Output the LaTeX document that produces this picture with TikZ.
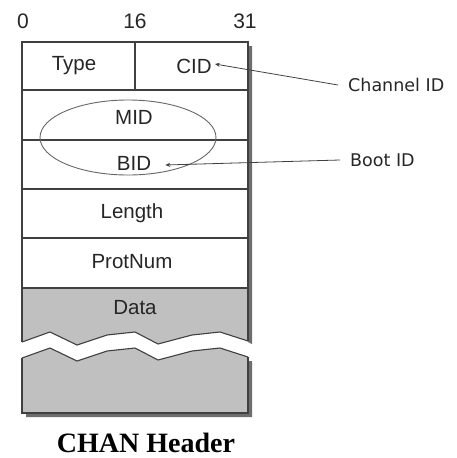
\documentclass[tikz,border=0pt]{standalone}
\usepackage{fontspec}
\setmainfont{Liberation Sans}
\newfontfamily\labelfont{DejaVu Sans}
\newfontfamily\titlefont{Liberation Serif}
\usetikzlibrary{arrows.meta}
\definecolor{linegray}{HTML}{404040}
\definecolor{datagray}{HTML}{C0C0C0}
\definecolor{shadowgray}{HTML}{6E6E6E}
\definecolor{txt}{HTML}{262626}
\begin{document}
\begin{tikzpicture}[x=1pt,y=-1pt,
  field/.style={text=txt,inner sep=0pt,font=\fontsize{20.5}{23}\selectfont},
  bitnum/.style={text=txt,inner sep=0pt,font=\fontsize{21}{24}\selectfont},
  callout/.style={text=txt,inner sep=0pt,anchor=west,font=\labelfont\fontsize{17.5}{20}\selectfont},
  edge/.style={draw=linegray,line width=1.1pt,line join=miter},
  pointer/.style={draw=linegray,line width=0.8pt,-{Stealth[length=5pt,width=4pt]}}]
\useasboundingbox (0,0) rectangle (456,458);
% shadows
\fill[shadowgray] (248,46) -- (252,46) -- (252,344) -- (248,342) -- cycle;
\fill[shadowgray] (248,361) -- (252,361) -- (252,417) -- (26,417) -- (26,413) -- (248,413) -- cycle;
% fills
\fill[white] (22,42) rectangle (248,288);
\fill[datagray] (22,288) -- (248,288) -- (248,341) -- (220,332) -- (192,335) -- (158,344) -- (135,332) -- (107,335) -- (77,345) -- (50,332) -- (22,342) -- cycle;
\fill[datagray] (22,358) -- (50,348) -- (77,361) -- (107,351) -- (135,348) -- (158,360) -- (192,351) -- (220,348) -- (248,357) -- (248,413) -- (22,413) -- cycle;
% outlines
\draw[edge] (22,342) -- (22,42) -- (248,42) -- (248,341);
\draw[edge] (22,342) -- (50,332) -- (77,345) -- (107,335) -- (135,332) -- (158,344) -- (192,335) -- (220,332) -- (248,341);
\draw[edge] (248,357) -- (248,413) -- (22,413) -- (22,358);
\draw[edge] (22,358) -- (50,348) -- (77,361) -- (107,351) -- (135,348) -- (158,360) -- (192,351) -- (220,348) -- (248,357);
\foreach \yy in {90,140,189,238,288} \draw[edge] (22,\yy) -- (248,\yy);
\draw[edge] (135,42) -- (135,90);
% ellipse
\draw[linegray!80,line width=0.9pt] (128,137.5) ellipse [x radius=88,y radius=37.5];
% bit numbers
\node[bitnum] (b0) at (23,21) {0};
\node[bitnum] (b16) at (135,21) {16};
\node[bitnum] (b31) at (245,21) {31};
% fields
\node[field] (type) at (74,66) {Type};
\node[field] (cid) at (194,66) {CID};
\node[field] (mid) at (134,117) {MID};
\node[field] (bid) at (134,163) {BID};
\node[field] (len) at (132,213) {Length};
\node[field] (prot) at (132,262) {ProtNum};
\node[field] (data) at (135,308) {Data};
% callouts
\node[callout] (chan) at (348,85) {Channel ID};
\node[callout] (boot) at (350,160) {Boot ID};
\draw[pointer] ([xshift=-10pt]chan.west) -- ([xshift=3pt,yshift=2pt]cid.east);
\draw[pointer] ([xshift=-10pt]boot.west) -- ([xshift=14pt,yshift=-2pt]bid.east);
% title
\node[inner sep=0pt,text=black,font=\titlefont\bfseries\fontsize{28}{32}\selectfont] (title) at (146,443) {CHAN Header};
\end{tikzpicture}
\end{document}
